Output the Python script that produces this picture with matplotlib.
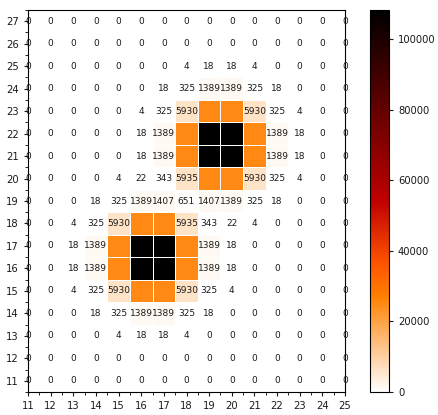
import numpy as np
import matplotlib
matplotlib.use("Agg")
import matplotlib.pyplot as plt

x_vals = list(range(11, 26))
y_vals = list(range(27, 10, -1))

O = 25300   # orange cells (not labelled)
B = 108300  # black cells (not labelled)

rows = [
    [0, 0, 0, 0, 0, 0, 0, 0, 0, 0, 0, 0, 0, 0, 0],            # 27
    [0, 0, 0, 0, 0, 0, 0, 0, 0, 0, 0, 0, 0, 0, 0],            # 26
    [0, 0, 0, 0, 0, 0, 0, 4, 18, 18, 4, 0, 0, 0, 0],          # 25
    [0, 0, 0, 0, 0, 0, 18, 325, 1389, 1389, 325, 18, 0, 0, 0],  # 24
    [0, 0, 0, 0, 0, 4, 325, 5930, O, O, 5930, 325, 4, 0, 0],  # 23
    [0, 0, 0, 0, 0, 18, 1389, O, B, B, O, 1389, 18, 0, 0],    # 22
    [0, 0, 0, 0, 0, 18, 1389, O, B, B, O, 1389, 18, 0, 0],    # 21
    [0, 0, 0, 0, 4, 22, 343, 5935, O, O, 5930, 325, 4, 0, 0],  # 20
    [0, 0, 0, 18, 325, 1389, 1407, 651, 1407, 1389, 325, 18, 0, 0, 0],  # 19
    [0, 0, 4, 325, 5930, O, O, 5935, 343, 22, 4, 0, 0, 0, 0],  # 18
    [0, 0, 18, 1389, O, B, B, O, 1389, 18, 0, 0, 0, 0, 0],    # 17
    [0, 0, 18, 1389, O, B, B, O, 1389, 18, 0, 0, 0, 0, 0],    # 16
    [0, 0, 4, 325, 5930, O, O, 5930, 325, 4, 0, 0, 0, 0, 0],  # 15
    [0, 0, 0, 18, 325, 1389, 1389, 325, 18, 0, 0, 0, 0, 0, 0],  # 14
    [0, 0, 0, 0, 4, 18, 18, 4, 0, 0, 0, 0, 0, 0, 0],          # 13
    [0, 0, 0, 0, 0, 0, 0, 0, 0, 0, 0, 0, 0, 0, 0],            # 12
    [0, 0, 0, 0, 0, 0, 0, 0, 0, 0, 0, 0, 0, 0, 0],            # 11
]
cbar_ticks = [0, 20000, 40000, 60000, 80000, 100000]

Z = np.array(rows, dtype=float)
xs = np.array(x_vals)
ys = np.array(y_vals)

fig = plt.figure(figsize=(4.38, 4.15), dpi=100)
ax = fig.add_axes([28 / 438, 23 / 415, 317 / 438, 382 / 415])
cax = fig.add_axes([370 / 438, 23 / 415, 19 / 438, 382 / 415])

xe = np.concatenate([xs - 0.5, [xs[-1] + 0.5]])
ye = np.concatenate([ys + 0.5, [ys[-1] - 0.5]])
mesh = ax.pcolormesh(xe, ye, Z, cmap="gist_heat_r", vmin=0, vmax=Z.max(),
                     edgecolors="white", linewidth=0.7)

for i, yv in enumerate(ys):
    for j, xv in enumerate(xs):
        v = Z[i, j]
        if v < 10000:
            ax.text(xv, yv, f"{int(v)}", ha="center", va="center",
                    fontsize=6.5, color="#1a1a1a")

ax.set_xlim(11, 25)
ax.set_ylim(10.5, 27.5)
ax.set_xticks(xs)
ax.set_yticks(ys)
ax.set_xticks(np.arange(11.5, 25, 1), minor=True)
ax.set_yticks(np.arange(10.5, 27.6, 1), minor=True)
ax.tick_params(labelsize=7.2, length=3, width=0.8, colors="#1a1a1a")
ax.tick_params(which="minor", length=2, width=0.6)
for s in ax.spines.values():
    s.set_linewidth(0.8)

cb = fig.colorbar(mesh, cax=cax, ticks=cbar_ticks)
cb.ax.tick_params(labelsize=7.2, length=3, width=0.8, colors="#1a1a1a")
cb.outline.set_linewidth(0.8)

fig.savefig("out.png", dpi=100)
